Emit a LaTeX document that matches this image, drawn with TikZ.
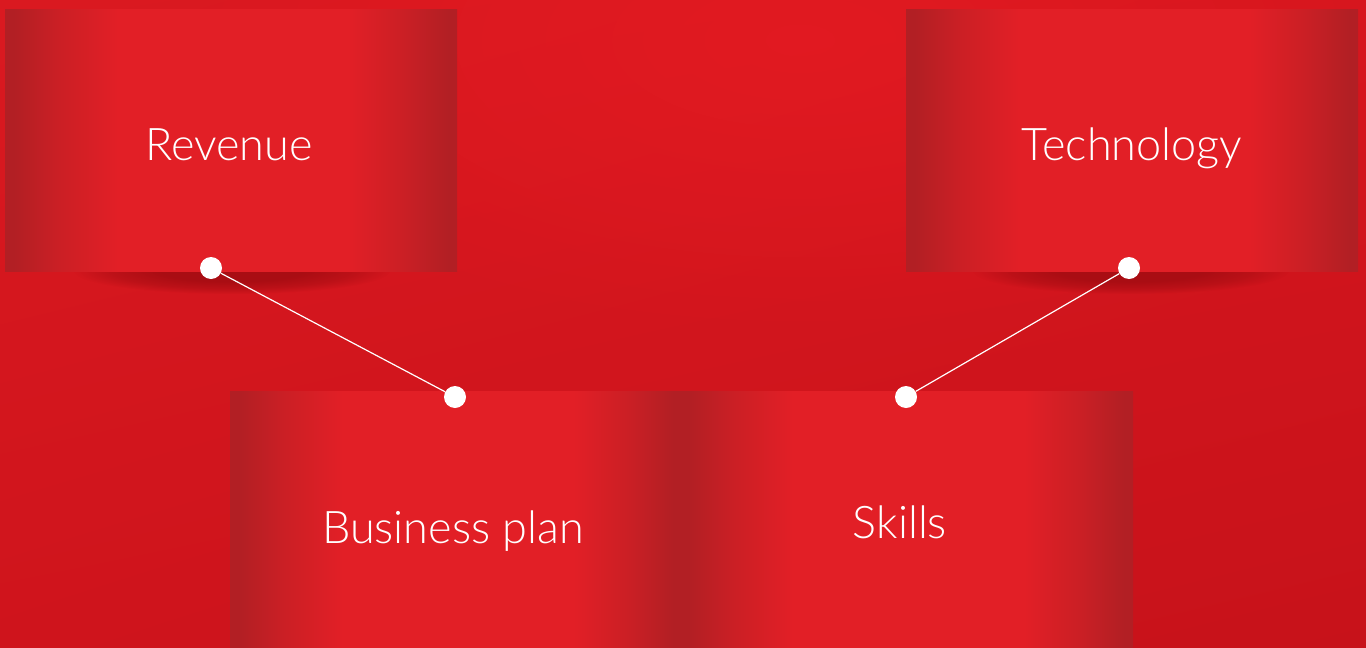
\documentclass[tikz,border=0pt]{standalone}
\usepackage{fontspec}
\setmainfont{Lato}[UprightFont={* Light}]
\usetikzlibrary{fadings,shadings}
\definecolor{bgUL}{HTML}{DA1920}
\definecolor{bgUR}{HTML}{D6161E}
\definecolor{bgLL}{HTML}{CF141C}
\definecolor{bgLR}{HTML}{C7121A}
\definecolor{bgSpot}{HTML}{E61B22}
\definecolor{edgeD}{HTML}{B21F24}
\definecolor{midC}{HTML}{CB1F25}
\definecolor{brightC}{HTML}{E21F26}
\definecolor{shadowC}{HTML}{A90D13}
\pgfdeclarehorizontalshading{boxshade}{100bp}{color(0bp)=(edgeD); color(25bp)=(edgeD); color(26bp)=(edgeD); color(31bp)=(midC); color(37.5bp)=(brightC); color(63bp)=(brightC); color(69bp)=(midC); color(74bp)=(edgeD); color(100bp)=(edgeD)}
\tikzfading[name=spotfade, inner color=transparent!0, outer color=transparent!100]
\pgfdeclareradialshading{shadowshade}{\pgfpointorigin}{color(0bp)=(white); color(11bp)=(white); color(19bp)=(white!55!black); color(25bp)=(black); color(50bp)=(black)}
\pgfdeclarefading{shadowfade}{\pgfuseshading{shadowshade}}
\tikzset{
  panel/.style={rectangle, inner sep=0pt, shading=boxshade, draw=none},
  lbl/.style={text=white, font=\fontsize{45}{50}\selectfont, inner sep=0pt, anchor=base},
  dot/.style={circle, fill=white, minimum size=22pt, inner sep=0pt},
  conn/.style={draw=white, line width=1.2pt},
  shadowfill/.style={fill=shadowC, path fading=shadowfade}
}
\begin{document}
\begin{tikzpicture}[x=1pt, y=-1pt]
\useasboundingbox (0,0) rectangle (1366,648);
\clip (0,0) rectangle (1366,648);
% background
\shade[upper left=bgUL, upper right=bgUR, lower left=bgLL, lower right=bgLR] (0,0) rectangle (1366,648);
\fill[bgSpot, path fading=spotfade, opacity=0.7] (800,40) ellipse [x radius=650, y radius=300];
% shadows under top panels
\begin{scope}
  \clip (0,271) rectangle (1366,320);
  \fill[shadowfill] (232,271) ellipse [x radius=158, y radius=23];
  \fill[shadowfill] (1131,271) ellipse [x radius=158, y radius=23];
\end{scope}
% panels
\node[panel, minimum width=452pt, minimum height=262pt] (p1) at (231,140) {};
\node[panel, minimum width=452pt, minimum height=262pt] (p2) at (1132,140) {};
\node[panel, minimum width=452pt, minimum height=300pt] (p3) at (456,541) {};
\node[panel, minimum width=453pt, minimum height=300pt] (p4) at (906.5,541) {};
% labels
\node[lbl] (t1) at (229,160) {Revenue};
\node[lbl] (t2) at (1132,160) {Technology};
\node[lbl] (t3) at (453,543) {Business plan};
\node[lbl] (t4) at (900,538) {Skills};
% dots and connectors
\node[dot] (d1) at (211,268) {};
\node[dot] (d2) at (455,397) {};
\node[dot] (d3) at (1129,268) {};
\node[dot] (d4) at (906,397) {};
\draw[conn] (d1) -- (d2);
\draw[conn] (d3) -- (d4);
\end{tikzpicture}
\end{document}
